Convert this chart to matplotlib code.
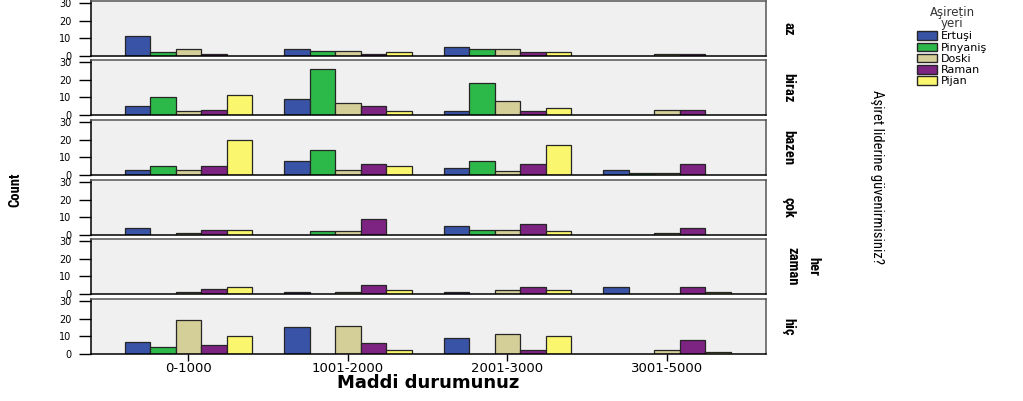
import numpy as np
import matplotlib.pyplot as plt
from matplotlib.patches import Patch

income = ["0-1000", "1001-2000", "2001-3000", "3001-5000"]
trust = ["az", "biraz", "bazen", "çok", "her\nzaman", "hiç"]
places = ["Ertuşi", "Pinyaniş", "Doski", "Raman", "Pijan"]
colors = ["#3953A6", "#2DB84A", "#D4CE98", "#7D2382", "#FAF76E"]

# counts per place (rows) over income groups (columns), one block per trust answer
az = [[11, 4, 5, 0], [2, 3, 4, 0], [4, 3, 4, 1], [1, 1, 2, 1], [0, 2, 2, 0]]
biraz = [[5, 9, 2, 0], [10, 26, 18, 0], [2, 7, 8, 3], [3, 5, 2, 3], [11, 2, 4, 0]]
bazen = [[3, 8, 4, 3], [5, 14, 8, 1], [3, 3, 2, 1], [5, 6, 6, 6], [20, 5, 17, 0]]
cok = [[4, 0, 5, 0], [0, 2, 3, 0], [1, 2, 3, 1], [3, 9, 6, 4], [3, 0, 2, 0]]
her_zaman = [[0, 1, 1, 4], [0, 0, 0, 0], [1, 1, 2, 0], [3, 5, 4, 4], [4, 2, 2, 1]]
hic = [[7, 15, 9, 0], [4, 0, 0, 0], [19, 16, 11, 2], [5, 6, 2, 8], [10, 2, 10, 1]]
panels = [az, biraz, bazen, cok, her_zaman, hic]

narrow = ["Roboto Condensed", "Liberation Sans Narrow", "DejaVu Sans"]

W, H = 1023, 401
fig = plt.figure(figsize=(W / 100, H / 100), dpi=100)

left, right = 91, 766
tops = [1, 60, 120, 180, 239, 299]
ph = 55
bw = 0.16
x = np.arange(len(income))

for i, data in enumerate(panels):
    ax = fig.add_axes([left / W, 1 - (tops[i] + ph) / H, (right - left) / W, ph / H])
    ax.set_facecolor("#F0F0F0")
    for j, vals in enumerate(data):
        vals = np.array(vals)
        keep = vals > 0
        ax.bar(x[keep] + (j - 2) * bw, vals[keep], width=bw, color=colors[j],
               edgecolor="#262626", linewidth=0.9)
    ax.set_xlim(-0.61, 3.62)
    ax.set_ylim(0, 31)
    ax.set_yticks([0, 10, 20, 30])
    ax.tick_params(axis="y", length=9, width=1, labelsize=7, pad=5)
    for s in ["top", "right"]:
        ax.spines[s].set_color("#555555")
    for s in ax.spines.values():
        s.set_linewidth(1.1)
    ax.set_xticks(x)
    if i < len(panels) - 1:
        ax.tick_params(axis="x", length=0, labelbottom=False)
    else:
        ax.set_xticklabels(income, fontsize=9.5)
        ax.tick_params(axis="x", length=5, width=1, pad=1)
    xs = 1.055 if "\n" in trust[i] else 1.033
    ax.text(xs, 0.5, trust[i], transform=ax.transAxes, rotation=-90,
            ha="center", va="center", fontsize=10.5, fontweight="bold",
            family=narrow, linespacing=1.6)

fig.text(428 / W, 1 - 383 / H, "Maddi durumunuz", ha="center", va="center",
         fontsize=13, fontweight="bold")
fig.text(15 / W, 1 - 190 / H, "Count", rotation=90, ha="center", va="center",
         fontsize=10.5, fontweight="bold", family=narrow)
fig.text(877 / W, 1 - 177 / H, "Aşiret liderine güvenirmisiniz?", rotation=-90,
         ha="center", va="center", fontsize=10.5, family=narrow)

handles = [Patch(facecolor=c, edgecolor="#262626", label=p) for c, p in zip(colors, places)]
leg = fig.legend(handles=handles, title="Aşiretin\nyeri", loc="upper left",
                 bbox_to_anchor=(909 / W, 1.005), frameon=False, fontsize=8,
                 title_fontsize=8.5, handlelength=1.8, handleheight=0.8,
                 handletextpad=0.4, labelspacing=0.1, borderpad=0.2,
                 alignment="center")
leg.get_title().set_color("#333333")
leg.get_title().set_linespacing(0.85)
leg.get_title().set_multialignment("center")

fig.savefig("out.png", dpi=100)
